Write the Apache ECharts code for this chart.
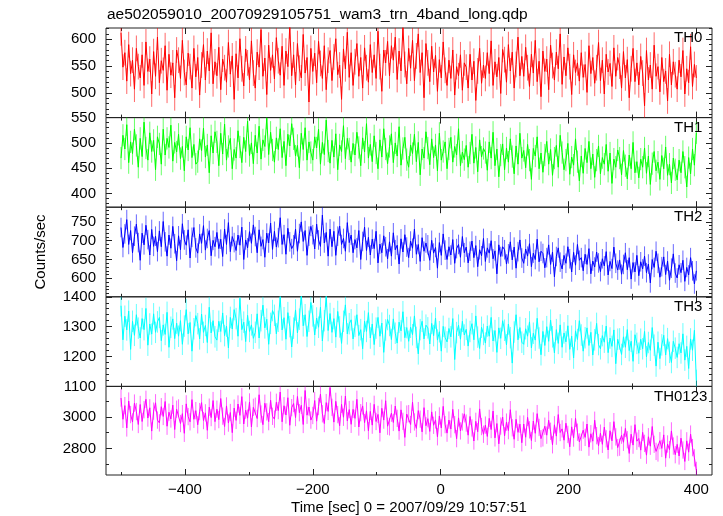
<!DOCTYPE html>
<html><head><meta charset="utf-8">
<script src="https://cdn.jsdelivr.net/npm/echarts@6/dist/echarts.min.js"></script>
<style>html,body{margin:0;padding:0;background:#fff}#c{width:723px;height:516px}</style>
</head><body><div id="c"></div>
<script>
// time bins (s): start and step
const tStart = -500, tStep = 3;
const panelNames = ['TH0','TH1','TH2','TH3','TH0123'];
const xTickMajor = [-400,-200,0,200,400];
const xTickMinor = [-500,-300,-100,100,300];
const yTickMajor = [[500,550,600],[400,450,500,550],[600,650,700,750],[1100,1200,1300,1400],[2800,3000]];
const yTickMinor = [
 [460,470,480,490,510,520,530,540,560,570,580,590,610,620],
 [380,390,410,420,430,440,460,470,480,490,510,520,530,540],
 [560,570,580,590,610,620,630,640,660,670,680,690,710,720,730,740,760,770,780],
 [1120,1140,1160,1180,1220,1240,1260,1280,1320,1340,1360,1380],
 [2700,2900,3100]];
const yRange = [[454,621],[373,550],[551,789],[1100,1400],[2631,3194]];
// typical 1-sigma error of a bin, per panel (counts/sec)
const errSize = [24, 22, 26, 36, 55];

const th0 = [
612,548,575,522,590,536,561,507,583,549,
528,571,514,595,540,563,498,577,531,604,
519,560,542,588,505,572,533,556,491,580,
561,527,598,538,515,574,549,509,583,530,
566,496,552,590,524,578,541,612,517,558,
532,585,506,563,547,520,594,535,569,488,
573,528,601,545,513,582,556,524,597,537,
509,576,548,618,531,565,497,589,542,571,
526,603,560,533,587,514,578,549,625,532,
571,515,592,546,528,609,537,566,483,583,
540,574,519,596,555,527,588,506,561,579,
523,567,601,534,552,488,582,545,613,529,
575,514,558,592,531,566,509,584,547,520,
590,538,571,527,615,549,503,580,556,596,
532,588,561,604,525,578,541,622,553,517,
583,546,598,523,569,610,538,575,491,592,
556,521,587,539,570,503,562,528,595,542,
514,561,527,580,496,549,532,571,505,556,
548,509,572,524,559,486,541,583,518,552,
527,575,536,597,514,558,530,566,499,581,
562,520,590,541,576,509,553,604,532,568,
531,585,547,512,572,537,598,521,559,493,
578,540,563,506,589,551,524,576,545,610,
516,567,532,584,549,497,571,538,556,522,
575,529,553,501,588,536,566,518,547,594,
523,561,498,572,539,555,512,584,531,566,
550,509,577,528,562,491,545,583,521,556,
515,568,537,476,579,524,552,507,589,531,
549,502,566,521,541,485,572,515,558,534,
507,561,530,579,498,545,519,586,512,553,
528];

const th1 = [
470,515,488,536,461,502,479,527,495,452,
509,473,541,490,466,520,483,505,447,512,
498,458,527,476,509,491,535,464,501,482,
517,469,493,445,512,486,530,471,497,458,
463,508,485,529,472,496,441,514,480,522,
502,455,519,478,537,466,493,509,449,487,
470,524,492,461,511,483,543,475,500,459,
515,480,533,468,506,493,549,477,521,486,
462,510,487,528,471,503,455,517,494,538,
508,474,495,451,519,487,530,466,502,481,
466,512,490,527,458,501,477,545,484,460,
505,472,518,447,496,483,534,469,509,488,
462,499,476,521,491,455,510,482,538,470,
497,463,514,480,449,506,472,528,488,459,
493,518,461,500,474,532,456,489,511,467,
452,496,479,517,463,501,437,488,470,522,
490,457,508,471,496,445,519,466,483,502,
449,488,511,462,493,476,528,455,482,467,
495,452,480,517,460,491,443,506,472,489,
481,446,502,470,521,455,488,433,476,498,
447,490,462,508,473,439,494,458,519,470,
485,451,497,466,428,489,474,512,449,480,
442,476,503,458,487,436,470,495,452,515,
481,447,466,499,438,472,456,508,463,425,
474,440,489,461,503,449,478,432,466,494,
439,471,458,497,444,480,420,468,452,486,
470,437,485,455,429,476,449,501,441,463,
431,468,452,490,440,474,418,459,483,445,
462,428,475,449,492,436,458,421,470,447,
427,466,441,483,452,413,471,439,488,456,
520];

const th2 = [
735,682,718,756,690,727,668,712,744,695,
648,720,689,741,703,662,730,685,712,671,
726,684,751,697,659,715,680,738,692,647,
713,676,745,702,688,729,654,709,735,681,
667,718,693,740,675,706,727,660,701,684,
722,679,704,658,731,690,748,671,711,695,
674,715,688,736,650,702,681,724,693,742,
711,668,729,685,703,656,720,694,747,677,
725,683,708,761,690,716,664,733,697,679,
689,731,672,719,750,698,727,661,712,738,
716,678,744,702,685,768,694,722,659,731,
684,725,661,712,739,690,706,672,748,695,
715,668,703,681,727,650,698,736,674,709,
662,704,679,725,641,691,668,713,684,652,
697,659,721,676,688,638,705,670,716,683,
655,699,680,731,664,690,645,708,672,694,
689,648,701,667,682,627,695,661,718,675,
650,684,662,703,640,679,690,656,711,668,
683,641,672,699,655,687,631,676,660,706,
645,681,667,700,652,673,612,689,658,684,
676,638,665,697,649,683,627,671,702,654,
640,678,659,692,631,667,650,704,644,672,
666,628,655,689,637,670,604,658,681,643,
625,661,640,684,652,617,669,635,690,648,
655,620,664,637,679,612,646,630,670,641,
618,652,633,671,609,645,626,683,640,622,
649,611,637,668,623,655,598,642,617,661,
607,644,625,659,615,638,588,650,629,672,
640,603,631,657,610,646,595,627,665,614,
601,636,615,648,592,629,609,655,620,585,
620];

const th3 = [
1370,1256,1335,1289,1352,1224,1318,1271,1340,1295,
1262,1327,1290,1361,1238,1309,1275,1343,1281,1316,
1331,1253,1306,1274,1348,1231,1298,1326,1260,1312,
1268,1320,1241,1302,1357,1276,1314,1218,1293,1337,
1310,1259,1342,1281,1304,1247,1365,1279,1320,1266,
1255,1318,1284,1346,1270,1302,1229,1331,1292,1357,
1327,1268,1395,1290,1315,1250,1338,1284,1306,1261,
1281,1343,1262,1320,1372,1296,1325,1241,1311,1354,
1338,1276,1318,1401,1289,1330,1258,1347,1300,1232,
1295,1356,1279,1325,1410,1303,1340,1267,1318,1381,
1336,1272,1329,1298,1365,1252,1320,1402,1287,1344,
1281,1327,1265,1351,1299,1244,1318,1373,1276,1310,
1323,1259,1301,1340,1270,1290,1226,1318,1284,1347,
1262,1309,1240,1295,1331,1268,1312,1214,1289,1324,
1304,1257,1326,1278,1245,1315,1286,1350,1263,1297,
1251,1298,1273,1336,1264,1209,1290,1318,1259,1305,
1296,1242,1311,1270,1329,1255,1283,1218,1301,1264,
1249,1294,1266,1327,1190,1280,1305,1258,1318,1272,
1291,1235,1284,1310,1256,1336,1265,1227,1298,1274,
1245,1302,1268,1331,1252,1287,1214,1296,1261,1320,
1288,1239,1309,1263,1178,1282,1340,1256,1297,1248,
1241,1293,1268,1316,1229,1278,1255,1328,1262,1206,
1284,1237,1300,1251,1322,1266,1212,1290,1244,1306,
1231,1279,1249,1303,1224,1268,1195,1286,1257,1320,
1272,1218,1263,1296,1237,1281,1205,1256,1311,1240,
1226,1270,1248,1302,1213,1262,1234,1289,1176,1258,
1259,1207,1266,1231,1290,1220,1251,1184,1273,1244,
1211,1258,1226,1284,1199,1247,1221,1297,1238,1168,
1248,1193,1239,1271,1205,1260,1214,1180,1251,1228,
1197,1243,1212,1276,1188,1234,1160,1259,1221,1288,
1120];

const th0123 = [
3120,2985,3072,2930,3101,3015,2968,3088,3034,2952,
3079,2971,3046,3112,2993,3058,2910,3037,3090,2980,
2962,3065,3003,3098,2941,3030,2987,3075,2920,3049,
3057,2958,3021,2896,3083,3002,2969,3110,2985,3040,
2950,3034,3091,2977,3026,2915,3062,2996,3104,2970,
3049,2983,3117,3005,2939,3070,2961,3028,2900,3056,
2978,3082,3010,3129,2955,3043,2992,3095,2936,3061,
3068,2990,3141,3018,2951,3087,3032,2970,3106,3004,
2986,3093,3040,3158,2969,3071,3012,3122,2947,3059,
3085,2996,3130,3027,3074,2952,3168,3011,3063,2980,
3009,3104,2973,3066,3145,3020,2958,3091,3035,3187,
3061,2967,3099,3015,2944,3080,2998,3133,2975,3047,
2953,3048,2991,3112,2936,3027,3070,2964,3039,2912,
3035,2948,3080,2971,3016,2899,3055,2980,3103,2941,
2937,3024,2965,3069,2991,2910,3045,2972,2870,3018,
3021,2952,3094,2968,2927,3040,2986,2905,3059,2944,
2989,2908,3032,2947,2981,2874,3006,2930,3067,2951,
2897,2980,2923,3048,2951,2862,2994,2911,2968,3020,
2961,2884,3003,2930,2847,2972,2906,3051,2939,2890,
2948,2876,2991,2920,3037,2867,2958,2829,2942,2999,
2880,2967,2913,3046,2931,2858,2985,2902,2954,2836,
2955,2871,2997,2918,2850,2974,2896,3021,2933,2862,
2867,2941,2884,2979,2909,2823,2950,2878,3015,2901,
2924,2852,2960,2889,2810,2937,2866,2991,2903,2841,
2839,2916,2870,2955,2808,2893,2846,2979,2881,2817,
2897,2826,2935,2861,2790,2912,2848,2970,2873,2805,
2808,2884,2839,2927,2855,2768,2890,2821,2951,2846,
2863,2789,2902,2832,2757,2874,2814,2939,2826,2781,
2771,2849,2800,2886,2738,2828,2792,2911,2815,2760,
2826,2752,2865,2790,2717,2848,2776,2891,2805,2740,
2660];

const seriesData = [th0, th1, th2, th3, th0123];
const colors = ['#ff0000','#00ff00','#0000ff','#00ffff','#ff00ff'];
const labelLeft = [674, 674, 674, 674, 654];

const FONT = 'Liberation Sans, Arial, Helvetica, sans-serif';
const AX = '#222';
const gridLeft = 106, gridW = 606, gridTop = 28, panelH = 89.6;
const xMin = -523.5, xMax = 424.5;
const nP = panelNames.length;

const grids = [], xAxes = [], yAxes = [], series = [], titles = [];
titles.push({text:'ae502059010_20070929105751_wam3_trn_4band_long.qdp', left:107, top:7, padding:0,
  textStyle:{fontFamily:FONT, fontSize:15.5, fontWeight:'normal', color:'#000'}});

function fmt(v){ return v < 0 ? '\u2212' + Math.abs(v) : String(v); }

for (let p = 0; p < nP; p++) {
  grids.push({left:gridLeft, width:gridW, top:gridTop + p*panelH, height:panelH,
    show:true, borderColor:AX, borderWidth:1, backgroundColor:'transparent'});
  const last = (p === nP-1);
  const mkX = (pos, vals, len, lab) => ({
    type:'value', gridIndex:p, position:pos, min:xMin, max:xMax,
    axisLine:{show:false, onZero:false}, splitLine:{show:false},
    axisTick:{show:true, inside:true, length:len, customValues:vals, lineStyle:{color:AX, width:1}},
    axisLabel:{show:lab, customValues:vals, formatter:fmt, margin:7,
      fontFamily:FONT, fontSize:15, color:'#000'}
  });
  const xb = mkX('bottom', xTickMajor, 6, last);
  if (last) {
    xb.name = 'Time [sec] 0 = 2007/09/29 10:57:51';
    xb.nameLocation = 'middle'; xb.nameGap = 25;
    xb.nameTextStyle = {fontFamily:FONT, fontSize:15, color:'#000'};
  }
  const xIdx = xAxes.length;
  xAxes.push(xb);
  xAxes.push(mkX('bottom', xTickMinor, 3, false));
  xAxes.push(mkX('top', xTickMajor, 6, false));
  xAxes.push(mkX('top', xTickMinor, 3, false));

  const mkY = (pos, vals, len, lab) => ({
    type:'value', gridIndex:p, position:pos, min:yRange[p][0], max:yRange[p][1],
    axisLine:{show:false, onZero:false}, splitLine:{show:false},
    axisTick:{show:true, inside:true, length:len, customValues:vals, lineStyle:{color:AX, width:1}},
    axisLabel:{show:lab, customValues:vals, formatter:(v)=>String(v), margin:10,
      showMinLabel:true, showMaxLabel:true,
      fontFamily:FONT, fontSize:15, color:'#000'}
  });
  const yl = mkY('left', yTickMajor[p], 6, true);
  if (p === 2) {
    yl.name = 'Counts/sec'; yl.nameLocation = 'middle'; yl.nameGap = 58;
    yl.nameTextStyle = {fontFamily:FONT, fontSize:15, color:'#000'};
  }
  const yIdx = yAxes.length;
  yAxes.push(yl);
  yAxes.push(mkY('left', yTickMinor[p], 3, false));
  yAxes.push(mkY('right', yTickMajor[p], 6, false));
  yAxes.push(mkY('right', yTickMinor[p], 3, false));

  const pts = seriesData[p].map((v,i) => [tStart + i*tStep, v]);
  const col = colors[p], e = errSize[p];
  // error bars
  series.push({
    type:'custom', xAxisIndex:xIdx, yAxisIndex:yIdx, clip:true, silent:true, animation:false,
    data: pts,
    renderItem: (params, api) => {
      const x = api.value(0), y = api.value(1);
      const a = api.coord([x, y - e]), b = api.coord([x, y + e]);
      return {type:'line', shape:{x1:a[0], y1:a[1], x2:b[0], y2:b[1]},
        style:{stroke:col, lineWidth:1, opacity:0.6}};
    }
  });
  series.push({
    type:'line', xAxisIndex:xIdx, yAxisIndex:yIdx, showSymbol:false, symbol:'none',
    animation:false, clip:true, silent:true,
    lineStyle:{color:col, width:1}, itemStyle:{color:col},
    data: pts
  });

  titles.push({text:panelNames[p], left:labelLeft[p], top:gridTop + p*panelH + 2.5, padding:0,
    textStyle:{fontFamily:FONT, fontSize:15, fontWeight:'normal', color:'#000'}});
}

const chart = echarts.init(document.getElementById('c'), null, {renderer:'canvas'});
chart.setOption({
  backgroundColor:'#fff', animation:false,
  title: titles, grid: grids, xAxis: xAxes, yAxis: yAxes, series: series
});
</script></body></html>
